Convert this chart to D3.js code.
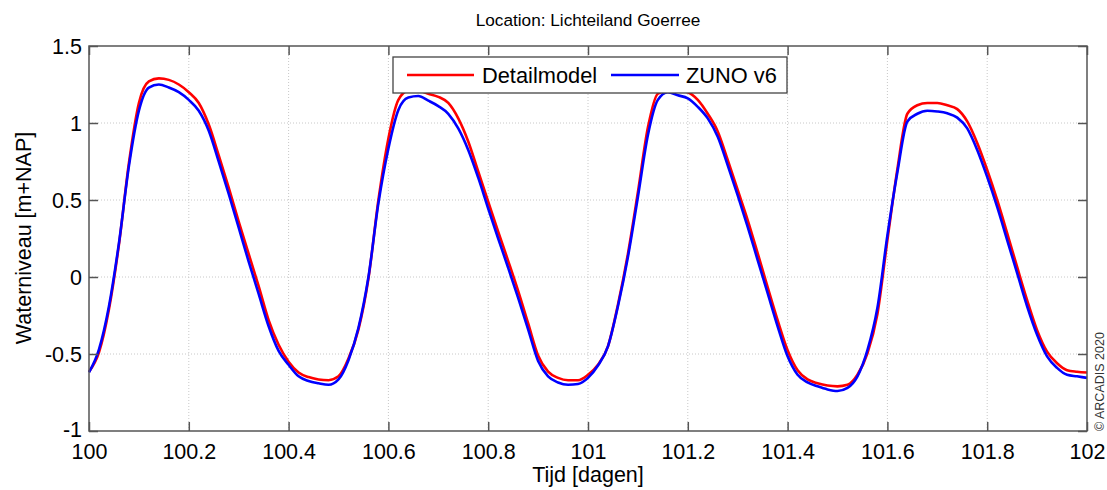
<!DOCTYPE html>
<html><head><meta charset="utf-8">
<script src="https://cdn.jsdelivr.net/npm/d3@7"></script>
<style>body{margin:0;background:#fff}svg{display:block;font-family:"Liberation Sans",Arial,sans-serif}</style>
</head><body><svg id="c" width="1107" height="490"></svg>
<script>
const title = "Location: Lichteiland Goerree";
const xLabel = "Tijd [dagen]";
const yLabel = "Waterniveau [m+NAP]";
const seriesNames = ["Detailmodel", "ZUNO v6"];
const seriesColors = ["#ff0000", "#0000ff"];
const xTicks = [100, 100.2, 100.4, 100.6, 100.8, 101, 101.2, 101.4, 101.6, 101.8, 102];
const yTicks = [-1, -0.5, 0, 0.5, 1, 1.5];
const times = [100.00,100.02,100.04,100.06,100.08,100.10,100.12,100.14,100.16,100.18,100.20,100.22,100.24,100.26,100.28,100.30,100.32,100.34,100.36,100.38,100.40,100.42,100.44,100.46,100.48,100.50,100.52,100.54,100.56,100.58,100.60,100.62,100.64,100.66,100.68,100.70,100.72,100.74,100.76,100.78,100.80,100.82,100.84,100.86,100.88,100.90,100.92,100.94,100.96,100.98,101.00,101.02,101.04,101.06,101.08,101.10,101.12,101.14,101.16,101.18,101.20,101.22,101.24,101.26,101.28,101.30,101.32,101.34,101.36,101.38,101.40,101.42,101.44,101.46,101.48,101.50,101.52,101.54,101.56,101.58,101.60,101.62,101.64,101.66,101.68,101.70,101.72,101.74,101.76,101.78,101.80,101.82,101.84,101.86,101.88,101.90,101.92,101.94,101.96,101.98,102.00];
const detailmodel = [-0.615,-0.49,-0.21,0.21,0.74,1.13,1.27,1.29,1.28,1.25,1.20,1.13,0.99,0.79,0.58,0.36,0.15,-0.06,-0.28,-0.44,-0.55,-0.62,-0.65,-0.665,-0.67,-0.645,-0.53,-0.34,-0.01,0.50,0.90,1.15,1.21,1.21,1.19,1.17,1.13,1.03,0.88,0.685,0.49,0.295,0.105,-0.09,-0.30,-0.51,-0.615,-0.655,-0.67,-0.67,-0.635,-0.57,-0.45,-0.18,0.15,0.55,0.97,1.19,1.21,1.21,1.20,1.15,1.06,0.945,0.76,0.565,0.37,0.155,-0.065,-0.28,-0.475,-0.605,-0.665,-0.69,-0.705,-0.71,-0.70,-0.635,-0.495,-0.24,0.24,0.70,1.06,1.115,1.13,1.13,1.115,1.09,1.01,0.87,0.695,0.50,0.285,0.065,-0.15,-0.345,-0.485,-0.56,-0.605,-0.615,-0.62];
const zunoV6 = [-0.62,-0.47,-0.19,0.22,0.72,1.08,1.23,1.25,1.23,1.20,1.15,1.08,0.95,0.75,0.54,0.32,0.10,-0.11,-0.32,-0.48,-0.57,-0.645,-0.675,-0.69,-0.70,-0.665,-0.54,-0.33,0.0,0.48,0.835,1.085,1.165,1.175,1.145,1.11,1.06,0.965,0.825,0.645,0.445,0.25,0.06,-0.135,-0.34,-0.545,-0.645,-0.685,-0.70,-0.695,-0.655,-0.575,-0.45,-0.19,0.13,0.52,0.92,1.15,1.20,1.18,1.16,1.105,1.03,0.91,0.725,0.53,0.325,0.11,-0.105,-0.32,-0.515,-0.635,-0.685,-0.71,-0.73,-0.74,-0.72,-0.645,-0.475,-0.20,0.27,0.68,1.01,1.06,1.08,1.075,1.063,1.035,0.965,0.825,0.65,0.455,0.24,0.025,-0.19,-0.375,-0.515,-0.59,-0.635,-0.645,-0.655];

const svg = d3.select("#c");
const L = 89, R = 1087, T = 46, B = 431;
const x = d3.scaleLinear().domain([100, 102]).range([L, R]);
const y = d3.scaleLinear().domain([-1, 1.5]).range([B, T]);
const axisCol = "#555";
const FF = "Liberation Sans, Arial, sans-serif";

// grid
const g = svg.append("g");
g.selectAll("line.gx").data(xTicks.slice(1, -1)).join("line")
  .attr("x1", d => x(d)).attr("x2", d => x(d)).attr("y1", T).attr("y2", B)
  .attr("stroke", "#c8c8c8").attr("stroke-width", 1).attr("stroke-dasharray", "1,2");
g.selectAll("line.gy").data(yTicks.slice(1, -1)).join("line")
  .attr("y1", d => y(d)).attr("y2", d => y(d)).attr("x1", L).attr("x2", R)
  .attr("stroke", "#c8c8c8").attr("stroke-width", 1).attr("stroke-dasharray", "1,2");

// data lines
const line = d3.line().x((d, i) => x(times[i])).y(d => y(d)).curve(d3.curveMonotoneX);
[detailmodel, zunoV6].forEach((s, k) => {
  svg.append("path").datum(s).attr("d", line).attr("fill", "none")
    .attr("stroke", seriesColors[k]).attr("stroke-width", 2.6).attr("stroke-linejoin", "round");
});

// axes with inward ticks
const fmt = d => String(d);
const tl = 9;
const ax = svg.append("g").attr("transform", `translate(0,${B})`)
  .call(d3.axisBottom(x).tickValues(xTicks).tickSize(-tl).tickFormat(fmt));
const axT = svg.append("g").attr("transform", `translate(0,${T})`)
  .call(d3.axisTop(x).tickValues(xTicks).tickSize(-tl).tickFormat(""));
const ay = svg.append("g").attr("transform", `translate(${L},0)`)
  .call(d3.axisLeft(y).tickValues(yTicks).tickSize(-tl).tickFormat(fmt));
const ayR = svg.append("g").attr("transform", `translate(${R},0)`)
  .call(d3.axisRight(y).tickValues(yTicks).tickSize(-tl).tickFormat(""));
[ax, axT, ay, ayR].forEach(a => {
  a.select(".domain").remove();
  a.selectAll(".tick line").attr("stroke", axisCol).attr("stroke-width", 1.5);
  a.selectAll(".tick text").attr("fill", "#000").style("font-size", "21.5px").style("font-family", FF);
});
ax.selectAll(".tick text").attr("dy", null).attr("y", 28);
ay.selectAll(".tick text").attr("dy", d => d === -1 ? "0.25em" : "0.35em").attr("x", -7);

svg.append("rect").attr("x", L).attr("y", T).attr("width", R - L).attr("height", B - T)
  .attr("fill", "none").attr("stroke", axisCol).attr("stroke-width", 1.5);

// legend
const lg = svg.append("g");
lg.append("rect").attr("x", 393).attr("y", 57).attr("width", 394).attr("height", 36)
  .attr("fill", "#fff").attr("stroke", "#444").attr("stroke-width", 1.3);
const lx = [[407, 474, 482], [611, 679, 686]];
seriesNames.forEach((n, k) => {
  lg.append("line").attr("x1", lx[k][0]).attr("x2", lx[k][1]).attr("y1", 75).attr("y2", 75)
    .attr("stroke", seriesColors[k]).attr("stroke-width", 2.6);
  lg.append("text").attr("x", lx[k][2]).attr("y", 83).text(n)
    .style("font-size", "21.8px").attr("fill", "#000");
});

// titles
svg.append("text").attr("x", 588).attr("y", 26).attr("text-anchor", "middle")
  .style("font-size", "17.2px").text(title);
svg.append("text").attr("x", 588).attr("y", 482).attr("text-anchor", "middle")
  .style("font-size", "21.5px").text(xLabel);
svg.append("text").attr("transform", "translate(31,238) rotate(-90)").attr("text-anchor", "middle")
  .style("font-size", "21.5px").text(yLabel);
svg.append("text").attr("transform", "translate(1104,431) rotate(-90)").attr("text-anchor", "start")
  .style("font-size", "12.5px").attr("fill", "#333").text("© ARCADIS 2020");
</script></body></html>
